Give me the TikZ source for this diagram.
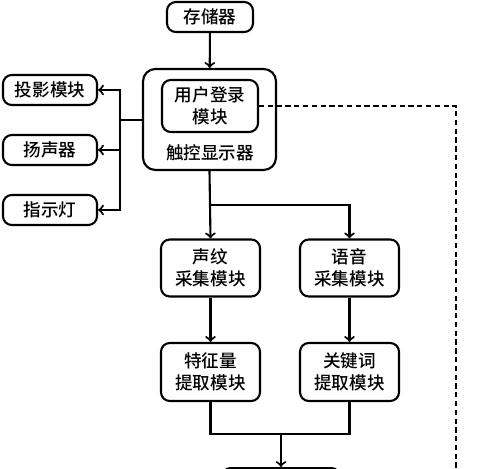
\documentclass[tikz,border=0pt]{standalone}
\usepackage{fontspec}
\setmainfont{Noto Sans CJK SC Medium}
\usepackage{tikz}
\usetikzlibrary{calc}
\usetikzlibrary{positioning}
\usetikzlibrary{arrows}

\tikzset{
	blk/.style={draw, very thick, rounded corners=5pt, align=center, inner sep=0pt,
		font=\fontsize{10}{12.5}\selectfont},
	sidebox/.style={blk, minimum width=1.88cm, minimum height=0.6cm},
	modbox/.style={blk, minimum width=1.98cm, minimum height=1.14cm},
}

\begin{document}
\begin{tikzpicture}[x=0.02cm, y=-0.02cm]
				\useasboundingbox (0,0) rectangle (500,469);
				\clip (0,0) rectangle (500,469);
				\node[blk, minimum width=1.72cm, minimum height=0.6cm] (store) at (210,17) {存储器};
				\node[blk, rounded corners=7pt, minimum width=2.66cm, minimum height=2.02cm] (touch) at (209.5,119.5) {};
				\node[blk, minimum width=1.92cm, minimum height=1.04cm] (login) at (210,106) {用户登录\\模块};
				\node[font=\fontsize{10}{12.5}\selectfont] (touchlbl) at (210,153) {触控显示器};
				\node[sidebox] (proj) at (50,90) {投影模块};
				\node[sidebox] (spk) at (50,150) {扬声器};
				\node[sidebox] (lamp) at (50,210) {指示灯};
				\node[modbox] (vpcap) at (210.5,268) {声纹\\采集模块};
				\node[modbox] (spcap) at (349.5,268) {语音\\采集模块};
				\node[modbox, minimum height=1.16cm] (feat) at (210.5,372) {特征量\\提取模块};
				\node[modbox, minimum height=1.16cm] (kw) at (349.5,372) {关键词\\提取模块};
				\node[blk, minimum width=2.36cm, minimum height=0.8cm, anchor=north] (out) at (281,467) {};
				
				\coordinate (bus) at (120,120);
				\coordinate (split) at (210,205);
				\coordinate (join) at (281,434);
				\coordinate (dcorner) at (456,106);
				\coordinate (dend) at (456,480);
				
				\draw[very thick, ->]  (store) -- (touch);
				\draw[very thick]  (touch.west |- bus) -- (bus);
				\draw[very thick, ->]  (bus) |- (proj.east);
				\draw[very thick, ->]  (bus) -- (bus |- spk.east) -- (spk.east);
				\draw[very thick, ->]  (bus) |- (lamp.east);
				\draw[very thick, ->]  (touch.south) -- (vpcap.north);
				\draw[very thick, ->]  (split) -| (spcap.north);
				\draw[very thick, ->]  (vpcap) -- (feat);
				\draw[very thick, ->]  (spcap) -- (kw);
				\draw[very thick]  (feat.south) |- (join) -| (kw.south);
				\draw[very thick, ->]  (join) -- (out.north);
				\draw[thick, densely dashed]  (login.east) -- (dcorner) -- (dend);
			\end{tikzpicture}
\end{document}
